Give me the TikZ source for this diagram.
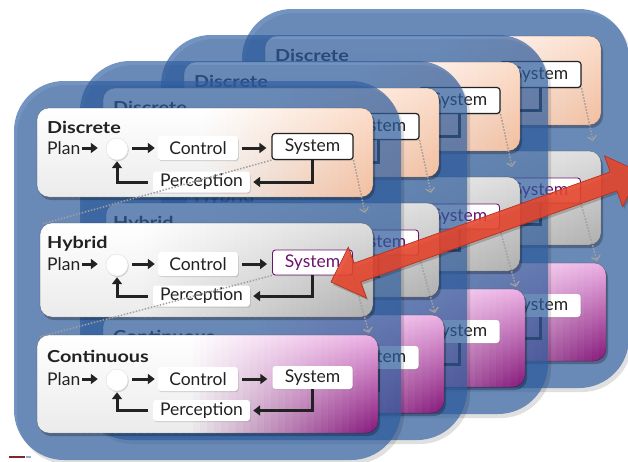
\documentclass[tikz,border=0pt]{standalone}
\usepackage{fontspec}
\setmainfont{Lato}
\usetikzlibrary{arrows.meta,shadows}
\definecolor{panelblue}{HTML}{2F5FA3}
\definecolor{ink}{HTML}{222222}
\definecolor{discTA}{HTML}{FFFFFF}
\definecolor{discBA}{HTML}{EBEBEB}
\definecolor{discTB}{HTML}{FBDDCB}
\definecolor{discBB}{HTML}{F2BE9F}
\definecolor{hybTA}{HTML}{FFFFFF}
\definecolor{hybBA}{HTML}{EBEBEB}
\definecolor{hybTB}{HTML}{DCDCDC}
\definecolor{hybBB}{HTML}{AFAFAF}
\definecolor{conTA}{HTML}{FFFFFF}
\definecolor{conBA}{HTML}{EBEBEB}
\definecolor{conTB}{HTML}{ECB0E4}
\definecolor{conBB}{HTML}{85177A}
\definecolor{hsys}{HTML}{6E1470}
\definecolor{arrowred}{HTML}{E8452C}
\definecolor{arrowedge}{HTML}{B8321D}
\definecolor{dotgray}{HTML}{A0A0A0}
\definecolor{footred}{HTML}{7A2A2A}

\newcommand\bodyfont{\fontsize{17.5pt}{17.5pt}\selectfont}
\newcommand\headfont{\fontsize{16.5pt}{16.5pt}\selectfont\bfseries}

\tikzset{
  txt/.style={font=\bodyfont, text=ink, inner sep=0pt},
  headline/.style={font=\headfont, text=ink, inner sep=0pt, anchor=base west},
  box/.style={txt, rectangle, rounded corners=3pt, fill=white,
     drop shadow={shadow xshift=0.8pt, shadow yshift=-1.2pt, opacity=0.3}},
  junction/.style={circle, fill=white, draw=black!12, minimum size=22pt, inner sep=0pt,
     drop shadow={shadow xshift=0.8pt, shadow yshift=-1.2pt, opacity=0.3}},
  sysd/.style={draw=ink, line width=1.2pt, minimum width=81pt, minimum height=26pt},
  sysh/.style={draw=hsys, text=hsys, line width=0.9pt, minimum width=80pt, minimum height=25pt},
  sysc/.style={minimum width=80pt, minimum height=23pt},
  flow/.style={draw=ink, line width=3pt, -{Triangle[length=7pt,width=10pt]}},
  dotline/.style={draw=dotgray, line width=1.5pt, dash pattern=on 1.5pt off 1.6pt},
  dotarrow/.style={dotline, -{Straight Barb[length=4pt,width=9pt,line width=1.3pt]}},
  panel/.style={fill=panelblue, opacity=0.67, rounded corners=50pt},
  panelshadow/.style={fill=black, opacity=0.12, rounded corners=50pt},
  cardshadow/.style={fill=black, opacity=0.25, rounded corners=12pt},
  cardrim/.style={draw=black, draw opacity=0.3, line width=0.5pt, rounded corners=12pt},
}

% card body: x1,y1,x2,y2, topA,botA, topB,botB, t0
\newcommand\cardbody[9]{%
  \fill[cardshadow] (#1+2,#2+3) rectangle (#3+2,#4+3);
  \begin{scope}
    \clip[rounded corners=12pt] (#1,#2) rectangle (#3,#4);
    \foreach \i in {0,...,47}{%
      \pgfmathsetmacro\p{max(0,min(1,((\i+0.5)/48-#9)/(1-#9)))*100}%
      \pgfmathsetmacro\xa{#1+(#3-#1)*\i/48}%
      \pgfmathsetmacro\xb{#1+(#3-#1)*(\i+1)/48+1.2}%
      \shade[top color=#7!\p!#5, bottom color=#8!\p!#6] (\xa,#2) rectangle (\xb,#4);
    }
  \end{scope}
  \draw[cardrim] (#1,#2) rectangle (#3,#4);
}

% row: layer, key, title, ytop, rowY, percY, title baseline
\newcommand\drawrow[7]{%
  \node[headline] (#1-#2title) at (10,#4+#7) {\scalebox{1.2}[1]{#3}};
  \node[txt, anchor=west] (#1-#2plan) at (10,#4+#5) {Plan};
  \node[junction] (#1-#2circ) at (80,#4+#5+1) {};
  \node[box, minimum width=80pt, minimum height=24pt] (#1-#2ctrl) at (161,#4+#5) {Control};
  \node[box, sys#2] (#1-#2sys) at (275.5,#4+#5-1.5) {System};
  \node[box, minimum width=97pt, minimum height=21pt] (#1-#2perc) at (164.5,#4+#6) {Perception};
  \draw[flow, shorten <=2pt, shorten >=8pt] (#1-#2plan.east) -- (#1-#2plan.east -| #1-#2circ.west);
  \draw[flow, shorten <=4pt, shorten >=3pt] (#1-#2circ.east |- #1-#2ctrl.west) -- (#1-#2ctrl.west);
  \draw[flow, shorten <=4pt, shorten >=5pt] (#1-#2ctrl.east) -- (#1-#2ctrl.east -| #1-#2sys.west);
  \draw[flow, shorten >=3pt] (#1-#2sys.south) |- (#1-#2perc.east);
  \draw[flow, shorten <=5pt, shorten >=1pt] (#1-#2perc.west) -| (#1-#2circ.south);
}

\newcommand\drawlayer[3]{%
  \begin{scope}[shift={(#2,#3)}]
    \fill[panelshadow] (-20,-23) rectangle (367,356);
    \fill[panel] (-23,-27) rectangle (364,352);
    \cardbody{0}{0}{336}{89}{discTA}{discBA}{discTB}{discBB}{0.5}
    \cardbody{3}{115}{336}{209}{hybTA}{hybBA}{hybTB}{hybBB}{0.3}
    \cardbody{0}{227}{341}{325}{conTA}{conBA}{conTB}{conBB}{0.45}
    \drawrow{#1}{d}{Discrete}{0}{40}{74}{25}
    \drawrow{#1}{h}{Hybrid}{115}{41}{73}{25}
    \drawrow{#1}{c}{Continuous}{227}{44}{75.5}{27}
    \coordinate (#1-hcorner) at (5,116);
    \coordinate (#1-ccorner) at (2,229);
    \coordinate (#1-htarget) at (328,105);
    \coordinate (#1-ctarget) at (332,225);
    \draw[dotline] (#1-dsys.south west) -- (#1-hcorner);
    \draw[dotarrow] (#1-dsys.south east) -- (#1-htarget);
    \draw[dotline] (#1-hsys.south west) -- (#1-ccorner);
    \draw[dotarrow] (#1-hsys.south east) -- (#1-ctarget);
  \end{scope}%
}

\begin{document}
\begin{tikzpicture}[x=1pt,y=-1pt]
  \useasboundingbox (0,0) rectangle (628,461);
  \clip (0,0) rectangle (628,461);
  \fill[white] (0,0) rectangle (628,461);

  \drawlayer{L3}{265}{36}
  \drawlayer{L2}{184}{62}
  \drawlayer{L1}{103}{88}
  \drawlayer{L0}{37}{108}

  % big double arrow
  \begin{scope}[shift={(333,285)}, rotate=19.6]
    \fill[black, opacity=0.18] (0,0) -- (28,-26) -- (28,-9.5) -- (300,-9.5) -- (300,-26) -- (328,0)
      -- (300,26) -- (300,9.5) -- (28,9.5) -- (28,26) -- cycle;
  \end{scope}
  \begin{scope}[shift={(331,282)}, rotate=19.6]
    \path[fill=arrowred, fill opacity=0.88, draw=arrowedge, line width=0.7pt]
      (0,0) -- (28,-27) -- (28,-10) -- (300,-10) -- (300,-27) -- (328,0)
      -- (300,27) -- (300,10) -- (28,10) -- (28,27) -- cycle;
  \end{scope}

  % footer remnant
  \fill[footred] (9,456) rectangle (25,458);
  \fill[panelblue!50] (26,456) rectangle (31,457.5);
\end{tikzpicture}
\end{document}
